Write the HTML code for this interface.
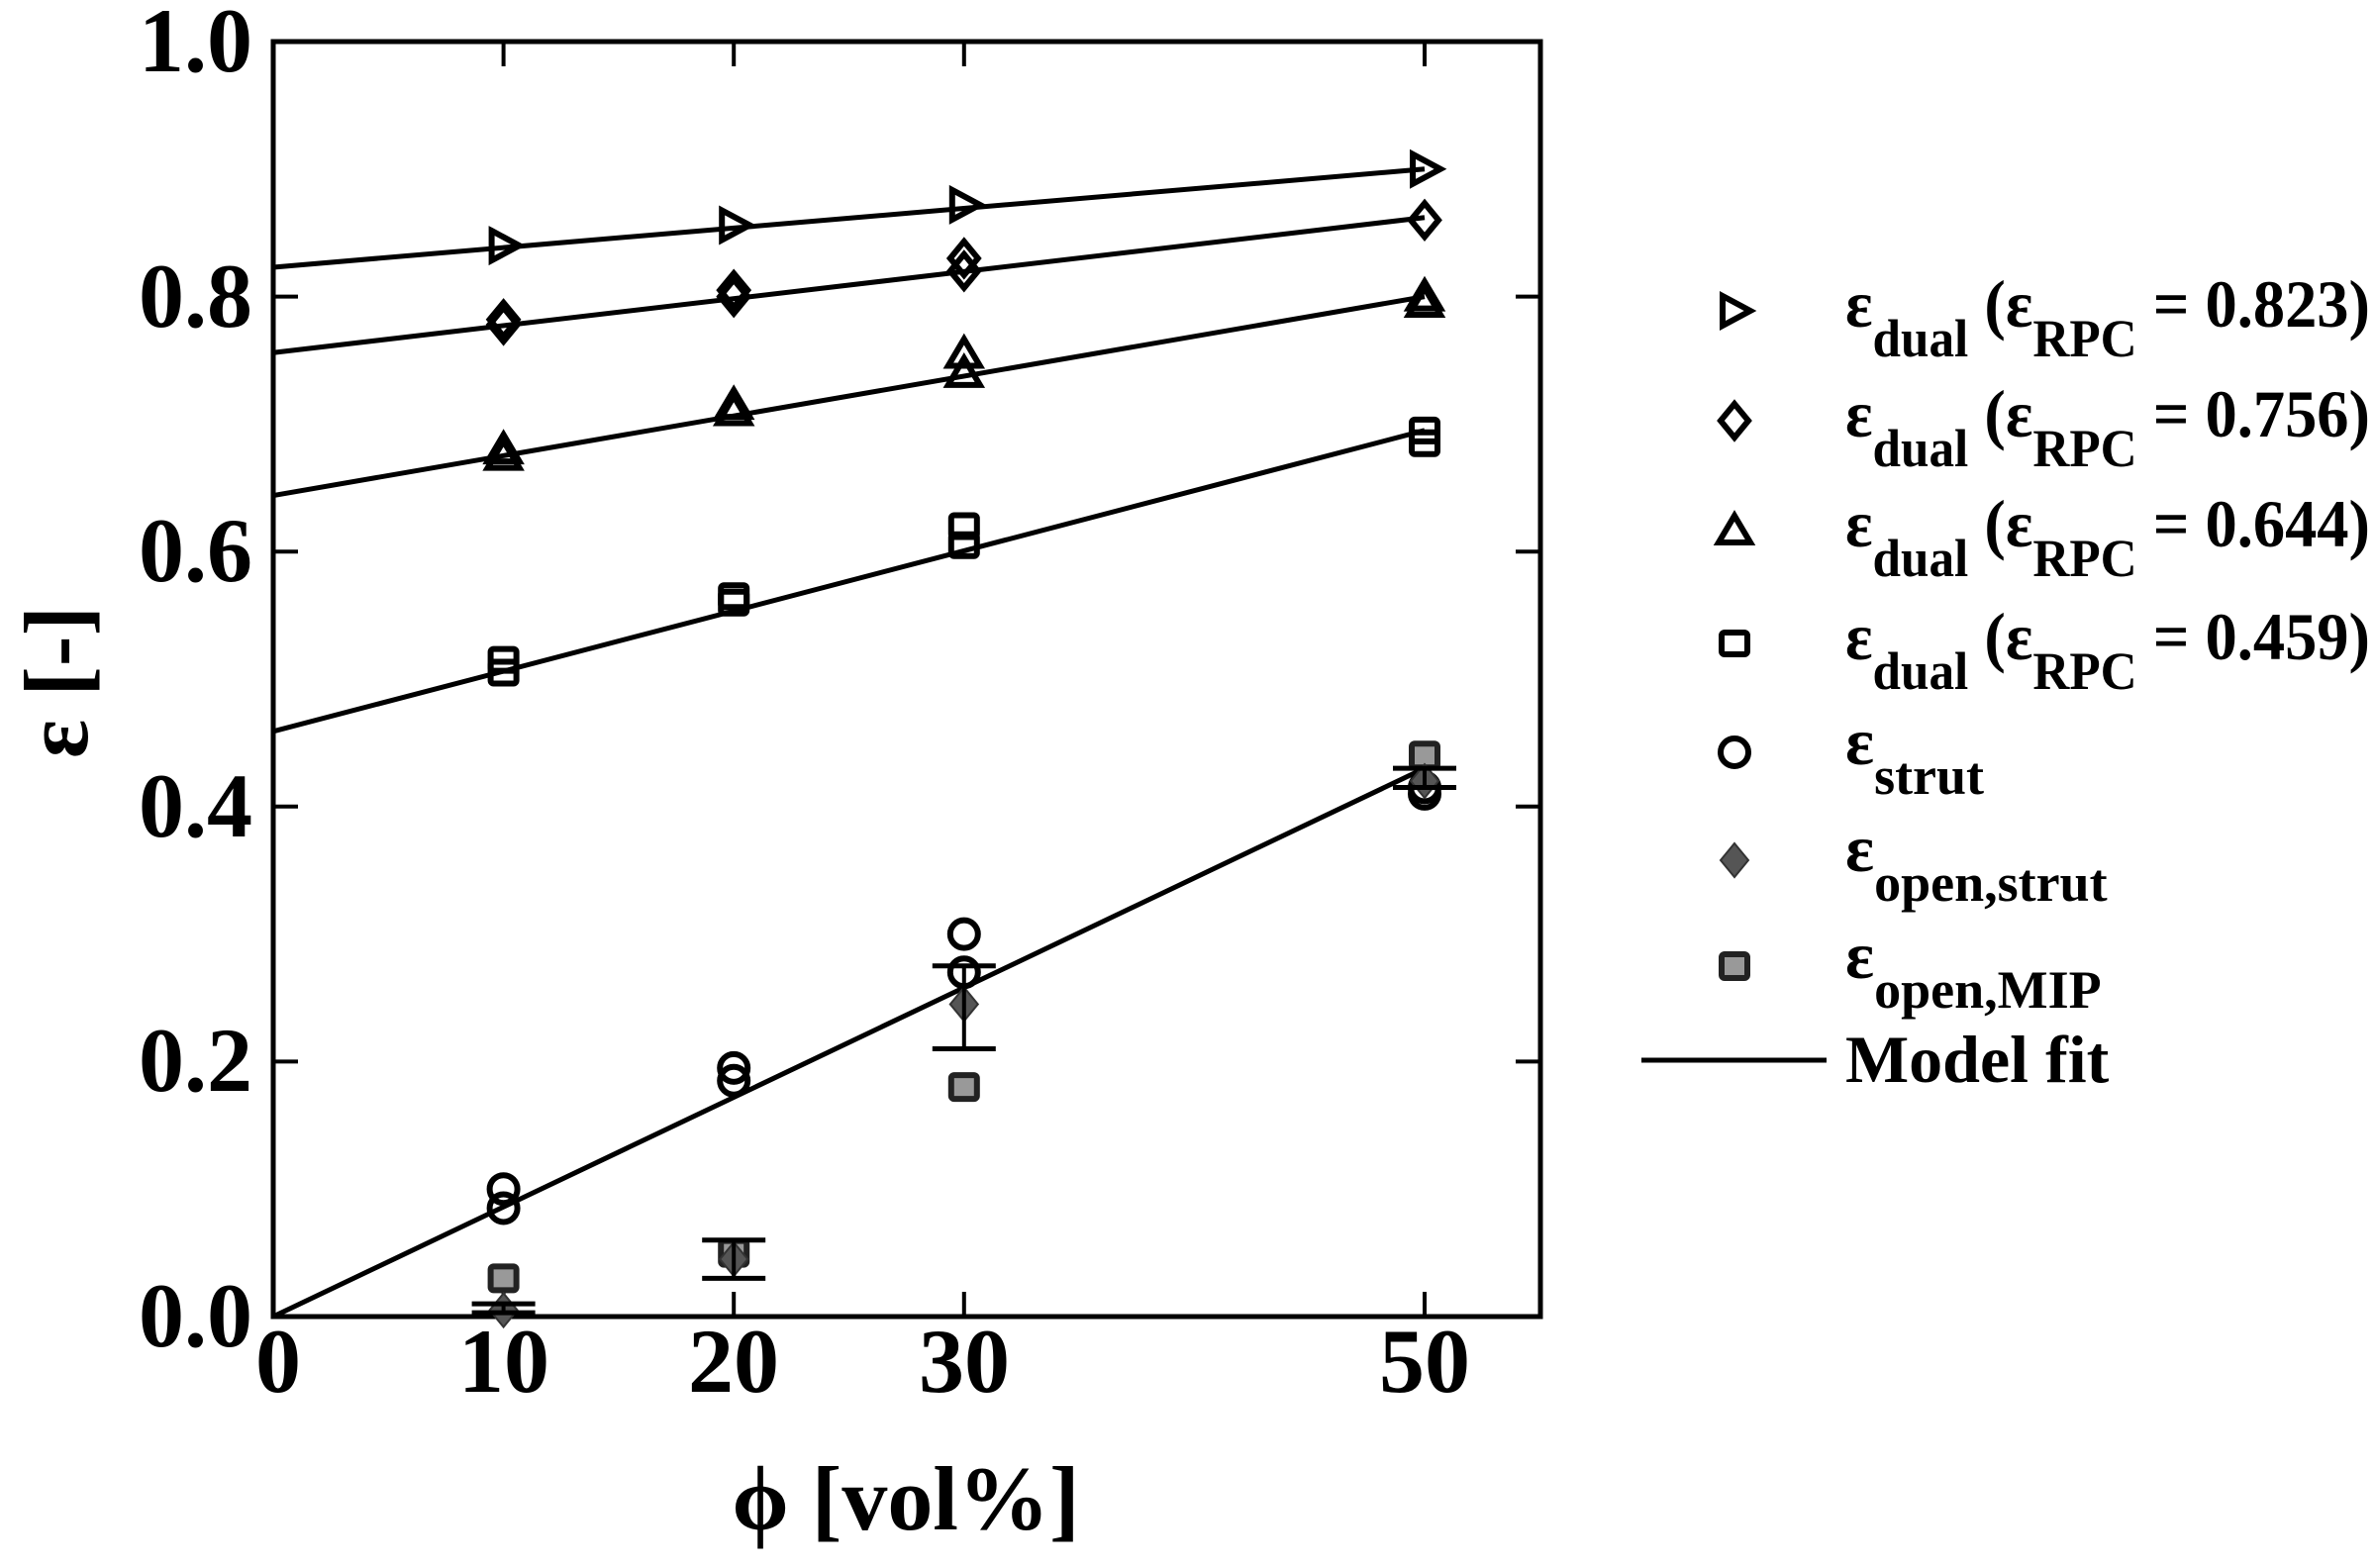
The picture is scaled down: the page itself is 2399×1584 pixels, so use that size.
<!DOCTYPE html>
<html><head><meta charset="utf-8"><style>
html,body{margin:0;padding:0;background:#fff;}
svg{display:block;font-family:"Liberation Serif",serif;font-weight:bold;}
</style></head><body>
<svg id="s" width="2399" height="1584" viewBox="0 0 2399 1584" xmlns="http://www.w3.org/2000/svg">
<rect x="276" y="42" width="1280" height="1288" fill="none" stroke="#000" stroke-width="5"/>
<g id="ticks" stroke="#000" stroke-width="4"></g>
<g font-size="92" text-anchor="end">
<text x="255" y="1360">0.0</text>
<text x="255" y="1102">0.2</text>
<text x="255" y="845">0.4</text>
<text x="255" y="587">0.6</text>
<text x="255" y="330">0.8</text>
<text x="255" y="72">1.0</text>
</g>
<g font-size="92" text-anchor="middle">
<text x="281" y="1406">0</text>
<text x="509" y="1406">10</text>
<text x="741" y="1406">20</text>
<text x="974" y="1406">30</text>
<text x="1439" y="1406">50</text>
<text x="915" y="1545">ϕ [vol%]</text>
<text transform="translate(88,689) rotate(-90)">ε [-]</text>
</g>
<g id="data"></g>
<g font-size="68">
<text x="1864" y="330" textLength="530" lengthAdjust="spacingAndGlyphs">ε<tspan font-size="54" dy="30">dual</tspan><tspan dy="-30"> (ε</tspan><tspan font-size="54" dy="30">RPC</tspan><tspan dy="-30"> = 0.823)</tspan></text>
<text x="1864" y="441" textLength="530" lengthAdjust="spacingAndGlyphs">ε<tspan font-size="54" dy="30">dual</tspan><tspan dy="-30"> (ε</tspan><tspan font-size="54" dy="30">RPC</tspan><tspan dy="-30"> = 0.756)</tspan></text>
<text x="1864" y="552" textLength="530" lengthAdjust="spacingAndGlyphs">ε<tspan font-size="54" dy="30">dual</tspan><tspan dy="-30"> (ε</tspan><tspan font-size="54" dy="30">RPC</tspan><tspan dy="-30"> = 0.644)</tspan></text>
<text x="1864" y="666" textLength="530" lengthAdjust="spacingAndGlyphs">ε<tspan font-size="54" dy="30">dual</tspan><tspan dy="-30"> (ε</tspan><tspan font-size="54" dy="30">RPC</tspan><tspan dy="-30"> = 0.459)</tspan></text>
<text x="1864" y="772">ε<tspan font-size="54" dy="30">strut</tspan></text>
<text x="1864" y="880">ε<tspan font-size="54" dy="30">open,strut</tspan></text>
<text x="1864" y="988">ε<tspan font-size="54" dy="30">open,MIP</tspan></text>
<text x="1864" y="1093">Model fit</text>
</g>
<line x1="1658" y1="1071" x2="1845" y2="1071" stroke="#000" stroke-width="5"/>
<g id="leg"></g>
</svg>
<script>
const NS="http://www.w3.org/2000/svg";
const X=v=>276+23.26*v, Y=v=>1330-1288*v;
function el(parent,tag,attrs){const e=document.createElementNS(NS,tag);for(const k in attrs)e.setAttribute(k,attrs[k]);document.getElementById(parent).appendChild(e);return e;}
[10,20,30,50].forEach(v=>{el('ticks','line',{x1:X(v),y1:1330,x2:X(v),y2:1305});el('ticks','line',{x1:X(v),y1:42,x2:X(v),y2:67});});
[0.2,0.4,0.6,0.8].forEach(v=>{el('ticks','line',{x1:276,y1:Y(v),x2:301,y2:Y(v)});el('ticks','line',{x1:1556,y1:Y(v),x2:1531,y2:Y(v)});});
function marker(g,type,cx,cy){
  const st={stroke:'#000','stroke-width':6,fill:'none'};
  const r=14;
  if(type==='tri-r') el(g,'polygon',Object.assign({points:`${cx-12},${cy-15} ${cx+16},${cy} ${cx-12},${cy+15}`},st));
  if(type==='dia') el(g,'polygon',Object.assign({points:`${cx},${cy-17} ${cx+14},${cy} ${cx},${cy+17} ${cx-14},${cy}`},st));
  if(type==='tri-u') el(g,'polygon',Object.assign({points:`${cx-16},${cy+12} ${cx},${cy-15} ${cx+16},${cy+12}`},st));
  if(type==='sq') el(g,'rect',Object.assign({x:cx-13,y:cy-11,width:26,height:22,rx:3},st));
  if(type==='circ') el(g,'circle',Object.assign({cx:cx,cy:cy,r:r},st));
  if(type==='gdia') el(g,'polygon',{points:`${cx},${cy-17} ${cx+14},${cy} ${cx},${cy+17} ${cx-14},${cy}`,fill:'#555',stroke:'#333','stroke-width':2});
  if(type==='gsq') el(g,'rect',{x:cx-13,y:cy-12,width:26,height:24,rx:3,fill:'#999',stroke:'#222','stroke-width':6});
}
[[0.823,0.9],[0.756,0.862],[0.644,0.8],[0.459,0.695],[0,0.43]].forEach(([a,b])=>el('data','line',{x1:X(0),y1:Y(a),x2:X(50),y2:Y(b),stroke:'#000','stroke-width':5}));
const D={
 'tri-r':[[10,0.84],[20,0.856],[30,0.872],[50,0.9]],
 'dia':[[10,0.778],[10,0.782],[20,0.80],[20,0.805],[30,0.82],[30,0.83],[50,0.86]],
 'tri-u':[[10,0.675],[10,0.68],[20,0.71],[20,0.715],[30,0.74],[30,0.755],[50,0.795],[50,0.80]],
 'sq':[[10,0.505],[10,0.515],[20,0.56],[20,0.565],[30,0.605],[30,0.62],[50,0.685],[50,0.695]],
 'circ':[[10,0.085],[10,0.1],[20,0.185],[20,0.195],[30,0.27],[30,0.3],[50,0.41],[50,0.415]],
 'gsq':[[10,0.03],[20,0.05],[30,0.18],[50,0.44]],
 'gdia':[[10,0.005],[20,0.045],[30,0.245],[50,0.42]]
};
for(const t in D) D[t].forEach(([x,y])=>marker('data',t,X(x),Y(y)));
[[10,0.003,0.01],[20,0.03,0.06],[30,0.21,0.275],[50,0.415,0.43]].forEach(([x,lo,hi])=>{
 const cx=X(x);
 el('data','line',{x1:cx,y1:Y(lo),x2:cx,y2:Y(hi),stroke:'#000','stroke-width':4});
 el('data','line',{x1:cx-32,y1:Y(lo),x2:cx+32,y2:Y(lo),stroke:'#000','stroke-width':5});
 el('data','line',{x1:cx-32,y1:Y(hi),x2:cx+32,y2:Y(hi),stroke:'#000','stroke-width':5});
});
const lx=1752;
[['tri-r',314],['dia',425],['tri-u',536],['sq',650],['circ',760],['gdia',869],['gsq',976]].forEach(([t,y])=>marker('leg',t,lx,y));
</script>
</body></html>
